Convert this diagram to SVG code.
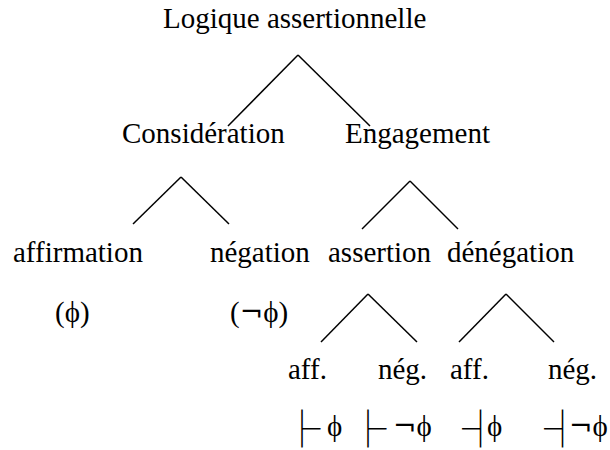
<svg xmlns="http://www.w3.org/2000/svg" width="610" height="450" viewBox="0 0 610 450">
<style>
text{font-family:"Liberation Serif","Times New Roman",serif;font-size:29px;fill:#000}
.ts{font-family:"Noto Sans CJK JP","DejaVu Sans",sans-serif;font-size:37px}
.ng{font-family:"DejaVu Serif",serif;font-size:28px}
.c line{stroke:#000;stroke-width:1.5;fill:none}
</style>
<rect width="610" height="450" fill="#fff"/>
<g class="c" id="connectors">
<line x1="298" y1="55" x2="228" y2="126"/>
<line x1="298" y1="55" x2="370" y2="126"/>
<line x1="181" y1="177" x2="133" y2="224"/>
<line x1="181" y1="177" x2="229" y2="224"/>
<line x1="410" y1="181" x2="362" y2="229"/>
<line x1="410" y1="181" x2="458" y2="229"/>
<line x1="368" y1="294" x2="321" y2="342"/>
<line x1="368" y1="294" x2="417" y2="342"/>
<line x1="506" y1="294" x2="459" y2="342"/>
<line x1="506" y1="294" x2="554" y2="342"/>
</g>
<g id="n-logique"><text x="163" y="28">Logique assertionnelle</text></g>
<g id="n-consideration"><text x="122" y="143">Considération</text></g>
<g id="n-engagement"><text x="345" y="143">Engagement</text></g>
<g id="n-affirmation"><text x="13" y="262">affirmation</text></g>
<g id="n-negation"><text x="210" y="262">négation</text></g>
<g id="n-assertion"><text x="328" y="262">assertion</text></g>
<g id="n-denegation"><text x="447" y="262">dénégation</text></g>
<g id="f-aff"><text x="55" y="322">(ϕ)</text></g>
<g id="f-neg"><text x="230" y="322">(<tspan class="ng">¬</tspan>ϕ)</text></g>
<g id="n-aff1"><text x="288" y="379">aff.</text></g>
<g id="n-neg1"><text x="378" y="379">nég.</text></g>
<g id="n-aff2"><text x="450" y="379">aff.</text></g>
<g id="n-neg2"><text x="548" y="379">nég.</text></g>
<g id="t1"><text class="ts" x="283.5" y="442.6">├</text><text x="327" y="436">ϕ</text></g>
<g id="t2"><text class="ts" x="349.5" y="442.6">├</text><text x="393" y="436"><tspan class="ng">¬</tspan>ϕ</text></g>
<g id="t3"><text class="ts" x="462" y="442.6">┤</text><text x="487" y="436">ϕ</text></g>
<g id="t4"><text class="ts" x="544" y="442.6">┤</text><text x="569" y="436"><tspan class="ng">¬</tspan>ϕ</text></g>
</svg>
